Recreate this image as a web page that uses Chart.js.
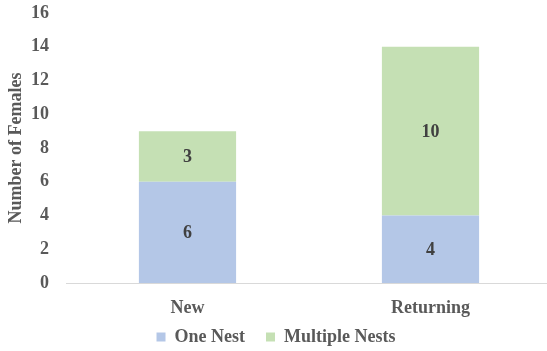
<!DOCTYPE html>
<html>
<head>
<meta charset="utf-8">
<script src="https://cdn.jsdelivr.net/npm/chart.js@4/dist/chart.umd.min.js"></script>
<style>
  html, body { margin: 0; padding: 0; background: #fff; overflow: hidden; }
  #wrap { width: 552px; height: 351px; }
</style>
</head>
<body>
<div id="wrap"><canvas id="nestChart"></canvas></div>
<script>
// dados do gráfico
const categories = ['New', 'Returning'];
const oneNest = [6, 4];
const multipleNests = [3, 10];
const yTicks = [0, 2, 4, 6, 8, 10, 12, 14, 16];

const serif = "'Liberation Serif', 'Times New Roman', serif";

// rótulos de valor no centro de cada segmento
const valueLabels = {
  id: 'valueLabels',
  afterDatasetsDraw(chart) {
    const ctx = chart.ctx;
    ctx.save();
    ctx.font = 'bold 18px ' + serif;
    ctx.fillStyle = '#404040';
    ctx.textAlign = 'center';
    ctx.textBaseline = 'middle';
    chart.data.datasets.forEach((ds, i) => {
      const meta = chart.getDatasetMeta(i);
      meta.data.forEach((bar, j) => {
        const mid = (bar.y + bar.base) / 2;
        ctx.fillText(String(ds.data[j]), bar.x, mid + 1);
      });
    });
    ctx.restore();
  }
};

// legenda: espaço largo entre itens, mas caixa baixa e puxada para cima
const legendFit = {
  id: 'legendFit',
  beforeLayout(chart) {
    const lg = chart.legend;
    if (!lg || lg._fitPatched) return;
    const fit = lg.fit;
    lg.fit = function () { fit.call(this); this.height = 31; };
    lg._fitPatched = true;
  },
  afterLayout(chart) {
    // só o topo sobe; o fundo continua no fim do canvas (a legenda recorta na própria caixa)
    chart.legend.top -= 13;
    chart.legend.height += 13;
  }
};

new Chart(document.getElementById('nestChart'), {
  type: 'bar',
  data: {
    labels: categories,
    datasets: [
      { label: 'One Nest', data: oneNest, backgroundColor: '#B4C7E7' },
      { label: 'Multiple Nests', data: multipleNests, backgroundColor: '#C5E0B4' }
    ]
  },
  options: {
    responsive: true,
    maintainAspectRatio: false,
    animation: false,
    layout: { padding: { top: 13, right: 0, left: 0, bottom: 0 } },
    datasets: { bar: { categoryPercentage: 1, barPercentage: 0.4 } },
    plugins: {
      tooltip: { enabled: false },
      legend: {
        position: 'bottom',
        labels: {
          color: '#595959',
          font: { family: serif, size: 18, weight: 'bold' },
          boxWidth: 9,
          boxHeight: 9,
          padding: 21
        }
      }
    },
    scales: {
      x: {
        stacked: true,
        afterFit(axis) { axis.height = 37; },
        grid: { display: false, drawTicks: false },
        border: { color: '#D9D9D9', width: 1 },
        ticks: {
          color: '#595959',
          padding: 15,
          font: { family: serif, size: 18, weight: 'bold' }
        }
      },
      y: {
        stacked: true,
        min: 0,
        max: 16,
        afterBuildTicks(axis) { axis.ticks = yTicks.map(v => ({ value: v })); },
        afterFit(axis) { axis.width = 66; },
        // marcas invisíveis só para afastar os números do eixo
        grid: { display: false, drawTicks: true, tickLength: 17, tickColor: 'rgba(0,0,0,0)' },
        border: { display: false },
        ticks: {
          color: '#595959',
          padding: 0,
          font: { family: serif, size: 18, weight: 'bold' }
        },
        title: {
          display: true,
          text: 'Number of Females',
          color: '#595959',
          padding: { top: 6, bottom: 0 },
          font: { family: serif, size: 18, weight: 'bold' }
        }
      }
    }
  },
  plugins: [valueLabels, legendFit]
});
</script>
</body>
</html>
